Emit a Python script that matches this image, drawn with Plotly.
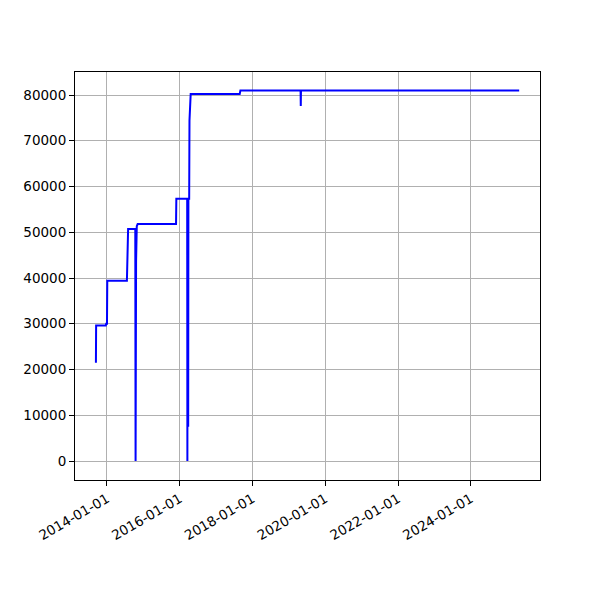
import plotly.graph_objects as go

dates = [
    "2013-09-12", "2013-09-14", "2013-12-20", "2013-12-24", "2014-01-01", "2014-01-04",
    "2014-07-20", "2014-07-25", "2014-08-01", "2014-10-12", "2014-10-15", "2014-10-20",
    "2014-10-27", "2014-11-05", "2015-11-25", "2015-11-28", "2016-03-16", "2016-03-18",
    "2016-03-20", "2016-03-26", "2016-03-28", "2016-04-05", "2016-04-08", "2016-04-20",
    "2017-08-25", "2017-09-01", "2019-04-28", "2019-04-30", "2019-05-02", "2025-04-30",
]
values = [
    21500, 29600, 29600, 30000, 30000, 39400,
    39400, 45700, 50700, 50700, 0, 43700,
    51300, 51800, 51800, 57300, 57300, 0,
    57300, 7500, 57300, 57300, 74400, 80200,
    80200, 81000, 81000, 77600, 81000, 81000,
]
x_ticks = ["2014-01-01", "2016-01-01", "2018-01-01", "2020-01-01", "2022-01-01", "2024-01-01"]
y_ticks = [0, 10000, 20000, 30000, 40000, 50000, 60000, 70000, 80000]

fig = go.Figure(go.Scatter(x=dates, y=values, mode="lines",
                           line=dict(color="#0000ff", width=2), showlegend=False))

font = dict(family="DejaVu Sans", size=13.5, color="black")
fig.update_layout(
    width=600, height=600,
    margin=dict(l=67, r=68, t=64, b=128),
    paper_bgcolor="white", plot_bgcolor="white",
    font=font,
)
fig.update_xaxes(
    type="date", range=["2013-02-14", "2025-11-25"],
    tickvals=x_ticks, ticktext=x_ticks, tickangle=-30,
    showgrid=True, gridcolor="#b0b0b0", gridwidth=0.8,
    showline=True, linecolor="black", linewidth=1, mirror=True,
    ticks="outside", ticklen=5, tickcolor="black", zeroline=False,
)
fig.update_yaxes(
    range=[-4150, 85030], tickvals=y_ticks, ticktext=[str(v) for v in y_ticks],
    showgrid=True, gridcolor="#b0b0b0", gridwidth=0.8,
    showline=True, linecolor="black", linewidth=1, mirror=True,
    ticks="outside", ticklen=5, tickcolor="black", zeroline=False,
)
fig.write_html("out.html")
